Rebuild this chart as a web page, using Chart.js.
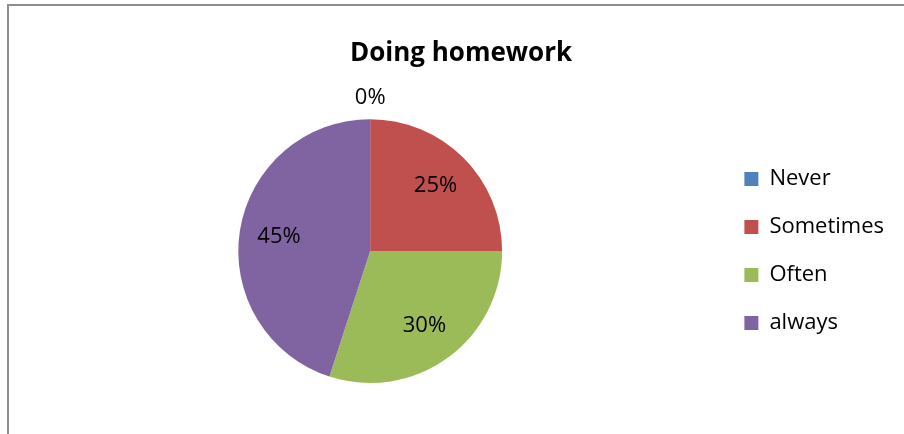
<!DOCTYPE html>
<html>
<head>
<meta charset="utf-8">
<title>Doing homework</title>
<script src="https://cdn.jsdelivr.net/npm/chart.js@4.4.1/dist/chart.umd.min.js"></script>
<style>
    html, body { margin: 0; padding: 0; background: #fff; overflow: hidden; }
    .wrap { position: relative; width: 904px; height: 434px; }
    .frame { position: absolute; left: 7px; top: 4px; width: 920px; height: 450px; border: 2px solid #8e8e8e; box-sizing: border-box; }
    #pieChart { position: absolute; left: 0; top: 0; }
</style>
</head>
<body>
<div class="wrap">
    <div class="frame"></div>
    <canvas id="pieChart" width="904" height="434"></canvas>
</div>
<script>
    const answers = ['Never', 'Sometimes', 'Often', 'always'];
    const shares = [0, 25, 30, 45];
    const sliceColors = ['#4f81bd', '#c0504d', '#9bbb59', '#8064a2'];

    const FONT = "'Open Sans', 'Noto Sans', sans-serif";

    // empty box to the right of the legend, so the title centre sits further right
    const rightGap = {
        id: 'rightGap',
        beforeInit(chart) {
            Chart.layouts.addBox(chart, {
                position: 'right', weight: 2000, fullSize: false, options: {},
                left: 0, top: 0, right: 0, bottom: 0, width: 0, height: 0,
                isHorizontal() { return false; },
                update(maxWidth, maxHeight) { this.width = 6; this.height = maxHeight; },
                draw() {}
            });
        }
    };

    // percentage labels, zero slices get theirs just outside the rim
    const sliceLabels = {
        id: 'sliceLabels',
        afterDatasetsDraw(chart) {
            const ctx = chart.ctx;
            const meta = chart.getDatasetMeta(0);
            ctx.save();
            ctx.font = '22px ' + FONT;
            ctx.fillStyle = '#000';
            ctx.textAlign = 'center';
            ctx.textBaseline = 'middle';
            meta.data.forEach((arc, i) => {
                const p = arc.getProps(['x', 'y', 'startAngle', 'endAngle', 'outerRadius'], true);
                const mid = (p.startAngle + p.endAngle) / 2;
                const r = shares[i] > 0 ? p.outerRadius * 0.7 : p.outerRadius + 21;
                ctx.fillText(shares[i] + '%', p.x + Math.cos(mid) * r, p.y + Math.sin(mid) * r);
            });
            ctx.restore();
        }
    };

    new Chart(document.getElementById('pieChart'), {
        type: 'pie',
        data: {
            labels: answers,
            datasets: [{
                data: shares,
                backgroundColor: sliceColors,
                borderWidth: 0
            }]
        },
        options: {
            responsive: false,
            animation: false,
            layout: { padding: { left: 22, right: 4, top: 0, bottom: 51 } },
            plugins: {
                title: {
                    display: true,
                    text: 'Doing homework',
                    color: '#000',
                    font: { family: FONT, size: 26, weight: 'bold', lineHeight: 1.2 },
                    padding: { top: 38, bottom: 50 }
                },
                legend: {
                    position: 'right',
                    fullSize: false,
                    labels: {
                        color: '#000',
                        font: { family: FONT, size: 22 },
                        boxWidth: 14,
                        boxHeight: 14,
                        padding: 26
                    }
                },
                tooltip: { enabled: false }
            }
        },
        plugins: [rightGap, sliceLabels]
    });
</script>
</body>
</html>
